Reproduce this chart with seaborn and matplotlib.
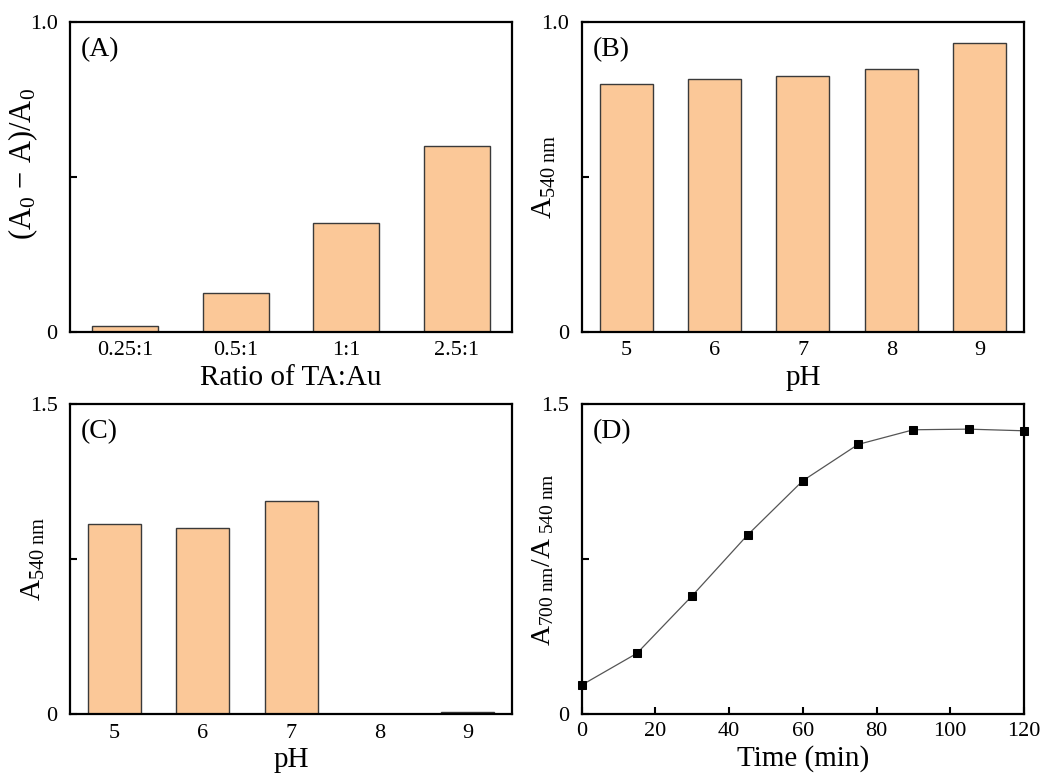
import matplotlib
matplotlib.use("Agg")
import matplotlib.pyplot as plt
import seaborn as sns
import pandas as pd

# panel A
ratio_labels = ["0.25:1", "0.5:1", "1:1", "2.5:1"]
ratio_values = [0.019, 0.124, 0.352, 0.601]

# panel B
ph_labels = ["5", "6", "7", "8", "9"]
ph_values_b = [0.799, 0.815, 0.826, 0.848, 0.933]

# panel C
ph_values_c = [0.920, 0.902, 1.030, 0.0, 0.011]

# panel D
time_min = [0, 15, 30, 45, 60, 75, 90, 105, 120]
ratio_700_540 = [0.140, 0.294, 0.573, 0.867, 1.130, 1.306, 1.377, 1.380, 1.372]

sns.set_theme(style="ticks")
plt.rcParams["font.family"] = ["Liberation Serif", "DejaVu Serif"]
plt.rcParams["mathtext.fontset"] = "custom"
plt.rcParams["mathtext.rm"] = "Liberation Serif"
plt.rcParams["mathtext.it"] = "Liberation Serif:italic"
plt.rcParams["text.color"] = "black"
plt.rcParams["axes.labelcolor"] = "black"
plt.rcParams["xtick.color"] = "black"
plt.rcParams["ytick.color"] = "black"

bar_color = "#FBC898"
edge = "#3a3a3a"
tick_fs = 16
label_fs = 21

fig = plt.figure(figsize=(10.42, 7.76), dpi=100)
axA = fig.add_axes([0.0672, 0.5726, 0.4242, 0.399])
axB = fig.add_axes([0.5585, 0.5726, 0.4242, 0.399])
axC = fig.add_axes([0.0672, 0.0799, 0.4242, 0.399])
axD = fig.add_axes([0.5582, 0.0799, 0.4245, 0.399])


def style(ax, panel, ylab_x, ylab_y=0.5):
    for s in ax.spines.values():
        s.set_linewidth(1.6)
        s.set_color("black")
    ax.tick_params(axis="y", direction="in", length=5, width=1.5,
                   labelsize=tick_fs, pad=9)
    ax.tick_params(axis="x", labelsize=tick_fs, pad=7)
    ax.yaxis.set_label_coords(ylab_x, ylab_y)
    ax.text(0.025, 0.952, panel, transform=ax.transAxes, ha="left", va="top",
            fontsize=label_fs - 1)


dfA = pd.DataFrame({"ratio": ratio_labels, "val": ratio_values})
sns.barplot(data=dfA, x="ratio", y="val", ax=axA, color=bar_color,
            edgecolor=edge, linewidth=1, width=0.6, saturation=1)
axA.set_ylim(0, 1.0)
axA.set_yticks([0, 0.5, 1.0], ["0", "", "1.0"])
axA.set_xlim(-0.5, 3.5)
axA.tick_params(axis="x", length=0)
axA.set_xlabel("Ratio of TA:Au", fontsize=label_fs, labelpad=3)
axA.set_ylabel(r"$\mathrm{(A_0\,-\,A)/A_0}$", fontsize=label_fs + 1)
style(axA, "(A)", -0.068, 0.54)

dfB = pd.DataFrame({"pH": ph_labels, "val": ph_values_b})
sns.barplot(data=dfB, x="pH", y="val", ax=axB, color=bar_color,
            edgecolor=edge, linewidth=1, width=0.6, saturation=1)
axB.set_ylim(0, 1.0)
axB.set_yticks([0, 0.5, 1.0], ["0", "", "1.0"])
axB.set_xlim(-0.5, 4.5)
axB.tick_params(axis="x", length=0)
axB.set_xlabel("pH", fontsize=label_fs, labelpad=3)
axB.set_ylabel(r"$\mathrm{A_{540\ nm}}$", fontsize=label_fs)
style(axB, "(B)", -0.054)

dfC = pd.DataFrame({"pH": ph_labels, "val": ph_values_c})
sns.barplot(data=dfC, x="pH", y="val", ax=axC, color=bar_color,
            edgecolor=edge, linewidth=1, width=0.6, saturation=1)
axC.set_ylim(0, 1.5)
axC.set_yticks([0, 0.75, 1.5], ["0", "", "1.5"])
axC.set_xlim(-0.5, 4.5)
axC.tick_params(axis="x", length=0)
axC.set_xlabel("pH", fontsize=label_fs, labelpad=3)
axC.set_ylabel(r"$\mathrm{A_{540\ nm}}$", fontsize=label_fs)
style(axC, "(C)", -0.052)

dfD = pd.DataFrame({"t": time_min, "r": ratio_700_540})
sns.lineplot(data=dfD, x="t", y="r", ax=axD, color="#555555", linewidth=0.9,
             marker="s", markersize=6, markerfacecolor="black",
             markeredgecolor="black", clip_on=False)
axD.set_xlim(0, 120)
axD.set_ylim(0, 1.5)
axD.set_xticks(range(0, 121, 20))
axD.set_yticks([0, 0.75, 1.5], ["0", "", "1.5"])
axD.set_xlabel("Time (min)", fontsize=label_fs, labelpad=3)
axD.set_ylabel(r"$\mathrm{A_{700\ nm}/A_{\ 540\ nm}}$", fontsize=label_fs - 1)
style(axD, "(D)", -0.057)
axD.tick_params(axis="x", direction="in", length=5, width=1.5, pad=6)

fig.savefig("out.png", dpi=100)
